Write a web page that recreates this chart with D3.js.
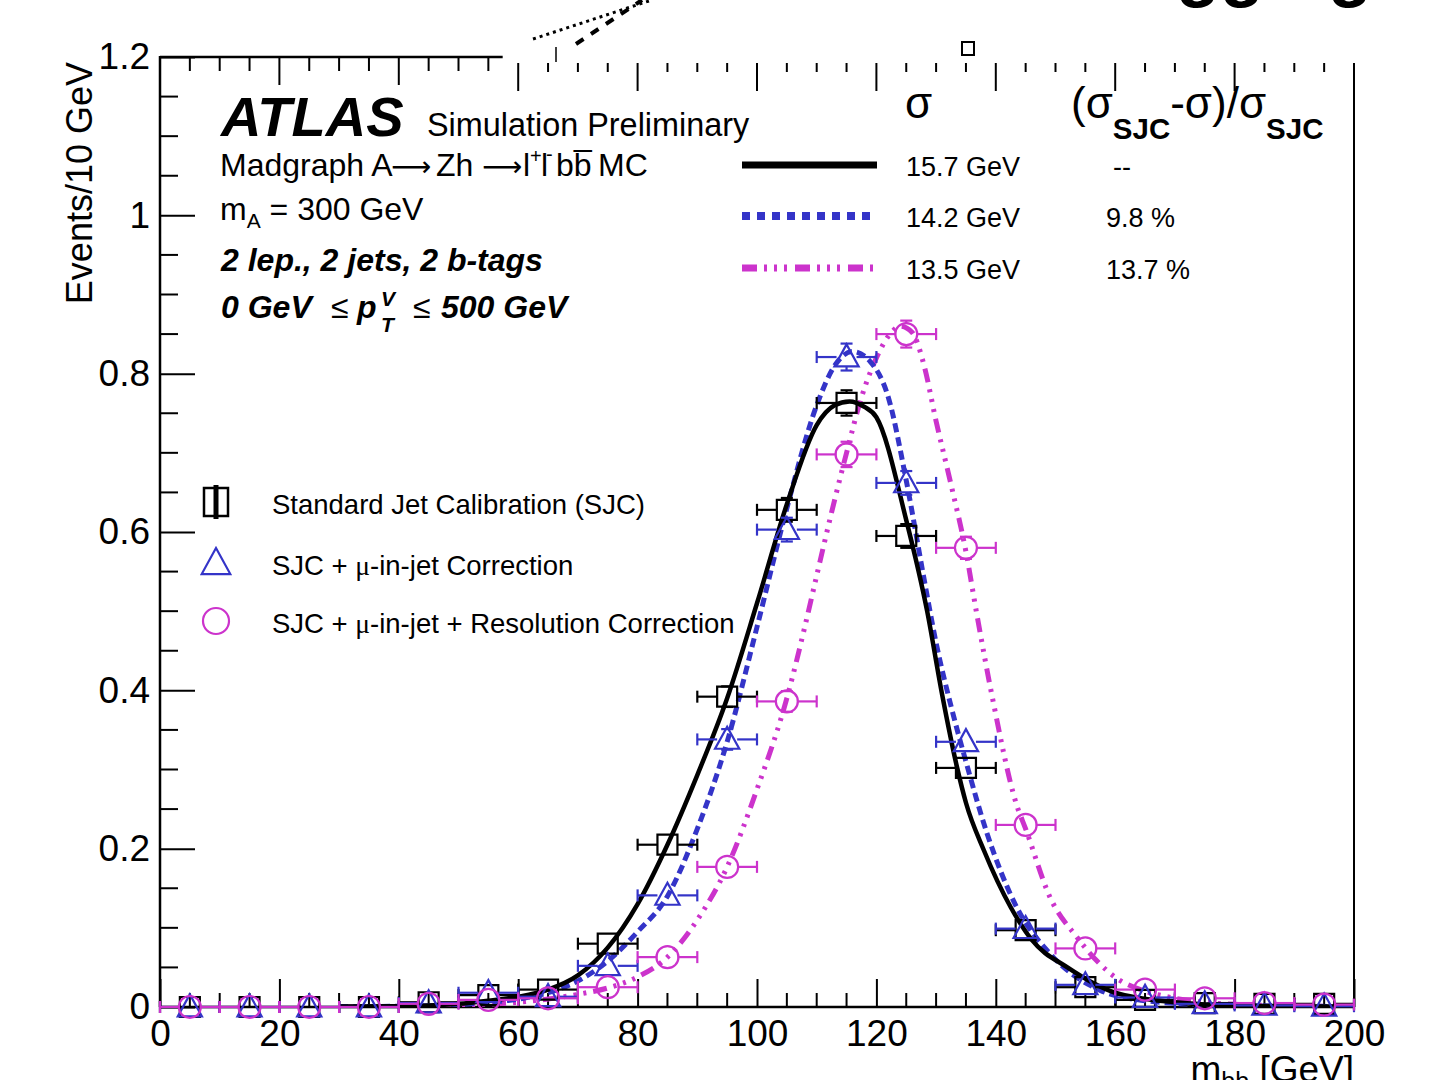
<!DOCTYPE html>
<html>
<head>
<meta charset="utf-8">
<script src="https://cdn.jsdelivr.net/npm/d3@7"></script>
<style>
body{margin:0;background:#fff}
svg{display:block}
text{font-family:"Liberation Sans",Arial,Helvetica,sans-serif;fill:#000}
</style>
</head>
<body>
<svg id="c" width="1439" height="1080"></svg>
<script>
// bin centres (GeV), 10 GeV bins
var bins = [5,15,25,35,45,55,65,75,85,95,105,115,125,135,145,155,165,175,185,195];

// Standard Jet Calibration (squares)
var sjc    = [0,0,0,0,0.006,0.015,0.022,0.080,0.205,0.392,0.628,0.763,0.595,0.302,0.097,0.025,0.009,0.005,0.004,0.004];
var sjcErr = [0,0,0,0,0.002,0.003,0.004,0.007,0.010,0.013,0.015,0.016,0.015,0.011,0.006,0.003,0.002,0.002,0.001,0.001];
// SJC + mu-in-jet (triangles)
var muj    = [0,0,0,0,0.005,0.018,0.013,0.052,0.141,0.338,0.603,0.821,0.662,0.335,0.099,0.028,0.012,0.004,0.002,0.001];
var mujErr = [0,0,0,0,0.002,0.003,0.003,0.006,0.009,0.013,0.015,0.017,0.015,0.011,0.006,0.004,0.002,0.002,0.001,0.001];
// SJC + mu-in-jet + resolution (circles)
var res    = [0,0,0,0,0.004,0.009,0.011,0.025,0.063,0.177,0.386,0.698,0.850,0.580,0.230,0.074,0.022,0.011,0.005,0.003];
var resErr = [0,0,0,0,0.002,0.002,0.003,0.004,0.006,0.009,0.013,0.016,0.017,0.014,0.009,0.005,0.003,0.002,0.001,0.001];

// fitted curves
var sjcFitX = [30,40,45,50,55,60,65,70,75,80,85,90,95,100,105,110,113,115.5,118,120,125,128.5,131,133.5,135,138,142.5,146,152,160,170,180,200];
var sjcFitY = [0.0005,0.001,0.002,0.004,0.008,0.013,0.022,0.040,0.075,0.130,0.205,0.293,0.390,0.510,0.635,0.735,0.760,0.765,0.758,0.745,0.615,0.500,0.395,0.303,0.258,0.198,0.126,0.085,0.050,0.018,0.006,0.002,0.0005];
var mujFitX = [30,40,50,55,60,65,70,75,80,85,90,95,100,105,110,113,116,119,122,125,128,130,132.5,135,138.5,143.5,149,157.5,165,175,200];
var mujFitY = [0.0005,0.001,0.003,0.006,0.010,0.018,0.033,0.058,0.095,0.140,0.225,0.335,0.480,0.630,0.760,0.810,0.828,0.815,0.770,0.665,0.540,0.460,0.380,0.310,0.220,0.126,0.068,0.021,0.008,0.003,0.0005];
var resFitX = [30,40,50,60,65,70,75,80,85,90,95,100,105,108,110,112.5,115,117.5,120,122.5,124,126,128,130,132.5,135,136.8,139.5,143.5,145,149,153.6,160.3,165,168.7,175,185,200];
var resFitY = [0.0003,0.0005,0.002,0.006,0.010,0.016,0.024,0.038,0.063,0.110,0.177,0.275,0.390,0.480,0.545,0.625,0.700,0.770,0.820,0.852,0.860,0.852,0.810,0.740,0.660,0.575,0.497,0.388,0.255,0.225,0.140,0.088,0.036,0.020,0.013,0.006,0.002,0.0005];

var sigmaLabels = ["15.7 GeV","14.2 GeV","13.5 GeV"];
var relLabels = ["--","9.8 %","13.7 %"];
var markerLabels = ["Standard Jet Calibration (SJC)","SJC + |-in-jet Correction","SJC + |-in-jet + Resolution Correction"];

var xTicks = [0,20,40,60,80,100,120,140,160,180,200];
var yTicks = [0,0.2,0.4,0.6,0.8,1,1.2];

var black = "#000000", blue = "#3434c8", magenta = "#cc33cc";

var svg = d3.select("#c");
var L = 160, R = 1354, T = 57, B = 1007;
var x = d3.scaleLinear().domain([0,200]).range([L,R]);
var y = d3.scaleLinear().domain([0,1.2]).range([B,T]);

svg.append("rect").attr("width",1439).attr("height",1080).attr("fill","#fff");

// ---- axes ----
var yAx = svg.append("g").attr("transform","translate("+L+",0)")
  .call(d3.axisLeft(y).tickValues(yTicks).tickSize(-35).tickPadding(10)
        .tickFormat(function(d){return d==1?"1":(d==0?"0":d3.format(".1f")(d));}));
yAx.select(".domain").remove();
yAx.selectAll("line").attr("stroke","#000").attr("stroke-width",2);
yAx.selectAll("text").attr("font-size",37).attr("font-family","Liberation Sans").attr("fill","#000");

var yMinor = d3.range(0,1.2001,0.05).filter(function(v){return Math.abs(v*5-Math.round(v*5))>1e-6;});
svg.append("g").selectAll("line").data(yMinor).enter().append("line")
  .attr("x1",L).attr("x2",L+18).attr("y1",function(d){return y(d);}).attr("y2",function(d){return y(d);})
  .attr("stroke","#000").attr("stroke-width",2);

var xAx = svg.append("g").attr("transform","translate(0,"+B+")")
  .call(d3.axisBottom(x).tickValues(xTicks).tickSize(-28).tickPadding(13));
xAx.select(".domain").remove();
xAx.selectAll("line").attr("stroke","#000").attr("stroke-width",2);
xAx.selectAll("text").attr("font-size",37).attr("font-family","Liberation Sans").attr("fill","#000");

var xMinor = d3.range(0,200.01,5).filter(function(v){return v%20!=0;});
svg.append("g").selectAll("line").data(xMinor).enter().append("line")
  .attr("x1",function(d){return x(d);}).attr("x2",function(d){return x(d);})
  .attr("y1",B).attr("y2",B-14).attr("stroke","#000").attr("stroke-width",2);

// top axis (left part attached to frame, right part shifted as in the figure)
var topAll = d3.range(0,200.01,5);
svg.append("g").selectAll("line").data(topAll).enter().append("line")
  .attr("x1",function(d){return x(d);}).attr("x2",function(d){return x(d);})
  .attr("y1",function(d){return d<=55?T:63;})
  .attr("y2",function(d){
    if(d<=55) return T+(d%20==0?28:14);
    return 63+(d%20==0?28:9);})
  .attr("stroke","#000").attr("stroke-width",2);

// frame
svg.append("line").attr("x1",L).attr("x2",L).attr("y1",T-1).attr("y2",B).attr("stroke","#000").attr("stroke-width",2.5);
svg.append("line").attr("x1",L-1).attr("x2",R+1).attr("y1",B).attr("y2",B).attr("stroke","#000").attr("stroke-width",2.5);
svg.append("line").attr("x1",L).attr("x2",x(57.4)).attr("y1",T).attr("y2",T).attr("stroke","#000").attr("stroke-width",2.5);
svg.append("line").attr("x1",R).attr("x2",R).attr("y1",63).attr("y2",B).attr("stroke","#000").attr("stroke-width",2);

// axis titles
svg.append("text").attr("transform","translate(92,62) rotate(-90)").attr("text-anchor","end")
  .attr("font-size",36).text("Events/10 GeV");
var xt = svg.append("text").attr("x",1354).attr("y",1082).attr("text-anchor","end").attr("font-size",37);
xt.append("tspan").text("m");
xt.append("tspan").attr("font-size",25).attr("dy",8).text("bb");
xt.append("tspan").attr("dy",-8).text(" [GeV]");

// ---- curves ----
svg.append("clipPath").attr("id","pa").append("rect").attr("x",L).attr("y",T).attr("width",R-L).attr("height",B-T);
var cg = svg.append("g").attr("clip-path","url(#pa)");
function fitLine(xs, ys){
  return d3.line().x(function(d){return x(d[0]);}).y(function(d){return y(d[1]);})
    .curve(d3.curveMonotoneX)(d3.zip(xs, ys));
}
cg.append("path").attr("d",fitLine(resFitX,resFitY)).attr("fill","none").attr("stroke",magenta)
  .attr("stroke-width",5).attr("stroke-dasharray","14,7,3,7,3,7,3,7");
cg.append("path").attr("d",fitLine(mujFitX,mujFitY)).attr("fill","none").attr("stroke",blue)
  .attr("stroke-width",5).attr("stroke-dasharray","9,5");
cg.append("path").attr("d",fitLine(sjcFitX,sjcFitY)).attr("fill","none").attr("stroke",black)
  .attr("stroke-width",4.5);

// ---- points with error bars ----
function markerPath(shape, s){
  if(shape=="square") return "M"+(-s)+","+(-s)+"h"+(2*s)+"v"+(2*s)+"h"+(-2*s)+"Z";
  if(shape=="tri") return "M0,"+(-1.15*s)+"L"+(1.1*s)+","+(0.85*s)+"L"+(-1.1*s)+","+(0.85*s)+"Z";
  return "M"+(-s)+",0a"+s+","+s+" 0 1,0 "+(2*s)+",0a"+s+","+s+" 0 1,0 "+(-2*s)+",0Z";
}
function drawSeries(vals, errs, color, shape){
  var g = svg.append("g").attr("stroke",color).attr("fill","none").attr("stroke-width",2.2);
  var h = 10;
  bins.forEach(function(c,i){
    var px = x(c), py = y(vals[i]);
    var xl = x(c-5), xr = x(c+5);
    g.append("line").attr("x1",xl).attr("x2",px-h).attr("y1",py).attr("y2",py);
    g.append("line").attr("x1",px+h).attr("x2",xr).attr("y1",py).attr("y2",py);
    g.append("line").attr("x1",xl).attr("x2",xl).attr("y1",py-6).attr("y2",py+6);
    g.append("line").attr("x1",xr).attr("x2",xr).attr("y1",py-6).attr("y2",py+6);
    var yt = y(vals[i]+errs[i]), yb = y(Math.max(0,vals[i]-errs[i]));
    if(py-yt > h){
      g.append("line").attr("x1",px).attr("x2",px).attr("y1",yt).attr("y2",py-h);
      g.append("line").attr("x1",px-6).attr("x2",px+6).attr("y1",yt).attr("y2",yt);
    }
    if(yb-py > h){
      g.append("line").attr("x1",px).attr("x2",px).attr("y1",py+h).attr("y2",yb);
      g.append("line").attr("x1",px-6).attr("x2",px+6).attr("y1",yb).attr("y2",yb);
    }
    g.append("path").attr("transform","translate("+px+","+py+")").attr("d",markerPath(shape, shape=="square"?10:11));
  });
}
drawSeries(sjc, sjcErr, black, "square");
drawSeries(muj, mujErr, blue, "tri");
drawSeries(res, resErr, magenta, "circle");

// ---- labels ----
svg.append("text").attr("x",221).attr("y",136).attr("font-size",56).attr("font-weight","bold")
  .attr("font-style","italic").text("ATLAS");
svg.append("text").attr("x",427).attr("y",136).attr("font-size",32.4).text("Simulation Preliminary");

var t1 = svg.append("text").attr("y",176).attr("font-size",32);
t1.append("tspan").attr("x",220).text("Madgraph A");
t1.append("tspan").attr("x",391).attr("font-family","DejaVu Sans").attr("font-size",28).text("\u27f6");
t1.append("tspan").attr("x",436).text("Zh");
t1.append("tspan").attr("x",482).attr("font-family","DejaVu Sans").attr("font-size",28).text("\u27f6");
t1.append("tspan").attr("x",523).text("l");
t1.append("tspan").attr("x",530).attr("dy",-13).attr("font-size",20).text("+");
t1.append("tspan").attr("x",541).attr("dy",13).text("l");
t1.append("tspan").attr("x",546).attr("dy",-15).attr("font-size",20).text("-");
t1.append("tspan").attr("x",556).attr("dy",15).text("bb\u0305");
t1.append("tspan").attr("x",598).text("MC");

var t2 = svg.append("text").attr("x",220).attr("y",220).attr("font-size",32);
t2.append("tspan").text("m");
t2.append("tspan").attr("font-size",21).attr("dy",8).text("A");
t2.append("tspan").attr("dy",-8).text(" = 300 GeV");
svg.append("text").attr("x",221).attr("y",271).attr("font-size",32).attr("font-weight","bold")
  .attr("font-style","italic").text("2 lep., 2 jets, 2 b-tags");
var t3 = svg.append("text").attr("y",318).attr("font-size",32).attr("font-weight","bold").attr("font-style","italic");
t3.append("tspan").attr("x",221).text("0 GeV");
t3.append("tspan").attr("x",331).attr("font-weight","normal").attr("font-style","normal").text("\u2264");
t3.append("tspan").attr("x",357).text("p");
t3.append("tspan").attr("x",381).attr("font-size",21).attr("dy",-12).text("V");
t3.append("tspan").attr("x",381).attr("font-size",21).attr("dy",26).text("T");
t3.append("tspan").attr("x",413).attr("dy",-14).attr("font-weight","normal").attr("font-style","normal").text("\u2264");
t3.append("tspan").attr("x",441).text("500 GeV");

// resolution legend
svg.append("text").attr("x",905).attr("y",118).attr("font-size",44).text("\u03c3");
var hd = svg.append("text").attr("x",1071).attr("y",118).attr("font-size",44);
hd.append("tspan").text("(\u03c3");
hd.append("tspan").attr("font-size",29.5).attr("font-weight","bold").attr("dy",21).text("SJC");
hd.append("tspan").attr("dy",-21).text("-\u03c3)/\u03c3");
hd.append("tspan").attr("font-size",29.5).attr("font-weight","bold").attr("dy",21).text("SJC");

var rowY = [165,216,268];
var rowStyle = [
  {c:black, w:7, d:null},
  {c:blue, w:8, d:"8,7"},
  {c:magenta, w:7, d:"15,7,3,7,3,7,3,8"}
];
rowY.forEach(function(ry,i){
  var ln = svg.append("line").attr("x1",742).attr("x2",877).attr("y1",ry).attr("y2",ry)
    .attr("stroke",rowStyle[i].c).attr("stroke-width",rowStyle[i].w);
  if(rowStyle[i].d) ln.attr("stroke-dasharray",rowStyle[i].d);
  svg.append("text").attr("x",906).attr("y",ry+11).attr("font-size",27).text(sigmaLabels[i]);
  svg.append("text").attr("x",i==0?1113:1106).attr("y",ry+11).attr("font-size",27).text(relLabels[i]);
});

// marker legend
var legY = [502,563,621];
var legShapes = ["square","tri","circle"];
var legCols = [black, blue, magenta];
legY.forEach(function(ly,i){
  var g = svg.append("g").attr("transform","translate(216,"+ly+")");
  if(i==0){
    g.append("path").attr("d","M-12,-14h24v28h-24Z").attr("fill","none").attr("stroke",black).attr("stroke-width",2.5);
    g.append("line").attr("x1",0).attr("x2",0).attr("y1",-17).attr("y2",17).attr("stroke",black).attr("stroke-width",5);
  } else {
    g.append("path").attr("d",markerPath(legShapes[i],13)).attr("fill","none").attr("stroke",legCols[i]).attr("stroke-width",2.2);
  }
  var t = svg.append("text").attr("x",272).attr("y",ly+12).attr("font-size",27.5);
  var parts = markerLabels[i].split("|");
  t.append("tspan").text(parts[0]);
  if(parts.length>1){
    t.append("tspan").attr("font-family","Liberation Serif").text("\u03bc");
    t.append("tspan").text(parts[1]);
  }
});

// remnants of an overlapping figure at the top edge
var dec = svg.append("g").attr("stroke","#000").attr("fill","none");
dec.append("line").attr("x1",533).attr("y1",39).attr("x2",652).attr("y2",0).attr("stroke-width",3).attr("stroke-dasharray","3,4");
dec.append("line").attr("x1",576).attr("y1",44).attr("x2",642).attr("y2",0).attr("stroke-width",4).attr("stroke-dasharray","9,9");
dec.append("line").attr("x1",556).attr("y1",47).attr("x2",556).attr("y2",62).attr("stroke-width",1.5);
dec.append("rect").attr("x",962).attr("y",42).attr("width",12).attr("height",13).attr("stroke-width",2);
svg.append("text").attr("x",1372).attr("y",-7).attr("text-anchor","end").attr("font-size",72)
  .attr("font-weight","bold").text("Tagging");
</script>
</body>
</html>
